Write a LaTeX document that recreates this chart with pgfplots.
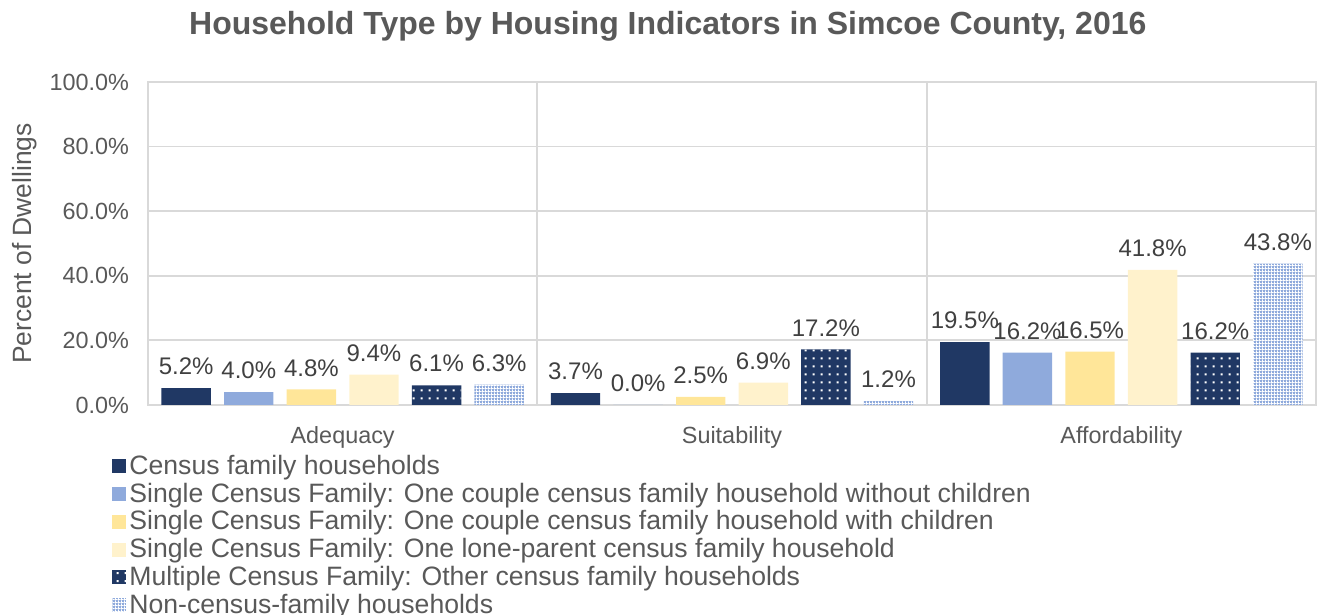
\documentclass[border=0pt]{standalone}
\usepackage{pgfplots}
\pgfplotsset{compat=1.18}
\usepackage{fontspec}
\setmainfont{Liberation Sans}
\usetikzlibrary{patterns}
\definecolor{navy}{HTML}{203864}
\definecolor{lblue}{HTML}{8FAADC}
\definecolor{yel}{HTML}{FFE699}
\definecolor{cream}{HTML}{FFF2CC}
\definecolor{gridc}{HTML}{D9D9D9}
\definecolor{txt}{HTML}{595959}
\definecolor{lbl}{HTML}{404040}
\pgfdeclarepatternformonly{mydots}{\pgfqpoint{0pt}{0pt}}{\pgfqpoint{3.8pt}{3.8pt}}{\pgfqpoint{3.8pt}{3.8pt}}{%
  \pgfpathrectangle{\pgfqpoint{1.4pt}{1.4pt}}{\pgfqpoint{1pt}{1pt}}\pgfusepath{fill}}
\pgfdeclarepatternformonly{mygrid}{\pgfqpoint{0pt}{0pt}}{\pgfqpoint{1.6pt}{1.6pt}}{\pgfqpoint{1.6pt}{1.6pt}}{%
  \pgfpathrectangle{\pgfqpoint{0pt}{0pt}}{\pgfqpoint{1.6pt}{0.5pt}}\pgfusepath{fill}%
  \pgfpathrectangle{\pgfqpoint{0pt}{0pt}}{\pgfqpoint{0.5pt}{1.6pt}}\pgfusepath{fill}}
\begin{document}
\begin{tikzpicture}
\path[use as bounding box] (0,0) rectangle (661.5pt,307.5pt);
\begin{axis}[
  at={(74pt,105pt)}, anchor=south west,
  scale only axis, width=584pt, height=161.5pt,
  ybar=6.6pt, bar width=24.7pt,
  xmin=-0.5, xmax=2.5, ymin=0, ymax=100,
  xtick={0,1,2}, xticklabels={Adequacy,Suitability,Affordability},
  ytick={0,20,40,60,80,100},
  yticklabel={\pgfmathprintnumber[fixed,precision=1,zerofill]{\tick}\%},
  /pgf/number format/assume math mode=true,
  ymajorgrids, major grid style={gridc, line width=0.9pt},
  extra x ticks={0.5,1.5}, extra x tick labels={},
  extra x tick style={grid=major, major tick length=0pt},
  axis line style={gridc, line width=0.9pt},
  major tick length=0pt,
  tick label style={font=\fontsize{11.7}{14}\selectfont, text=txt},
  y tick label style={xshift=-6pt},
  x tick label style={yshift=-7pt},
  ylabel={Percent of Dwellings},
  ylabel style={at={(axis description cs:-0.106,0.5)}, anchor=center, rotate=0, font=\fontsize{13.2}{15}\selectfont, text=txt},
  title={\bfseries Household Type by Housing Indicators in Simcoe County, 2016},
  title style={at={(axis description cs:0.445,1.136)}, anchor=center, font=\fontsize{16}{19}\selectfont, text=txt},
  nodes near coords={\pgfmathprintnumber[fixed,precision=1,zerofill]{\pgfplotspointmeta}\%},
  every node near coord/.append style={font=\fontsize{12}{14}\selectfont, text=lbl, yshift=3pt},
  legend style={draw=none, fill=none, at={(rel axis cs:-0.0359,-0.133)}, anchor=north west,
    font=\fontsize{13.3}{15}\selectfont, text=txt, row sep=-0.3pt,
    nodes={inner sep=1.5pt}},
  legend cell align=left,
  legend image code/.code={\path[#1] (-1.5pt,-3.5pt) rectangle (5.5pt,3.5pt);},
]
\addplot[fill=navy, draw=none] coordinates {(0,5.2) (1,3.7) (2,19.5)};
\addplot[fill=lblue, draw=none] coordinates {(0,4.0) (1,0.0) (2,16.2)};
\addplot[fill=yel, draw=none] coordinates {(0,4.8) (1,2.5) (2,16.5)};
\addplot[fill=cream, draw=none] coordinates {(0,9.4) (1,6.9) (2,41.8)};
\addplot[fill=navy, draw=none, postaction={pattern=mydots, pattern color=white}] coordinates {(0,6.1) (1,17.2) (2,16.2)};
\addplot[fill=lblue, draw=none, postaction={pattern=mygrid, pattern color=white}] coordinates {(0,6.3) (1,1.2) (2,43.8)};
\legend{Census family households,
Single Census Family: One couple census family household without children,
Single Census Family: One couple census family household with children,
Single Census Family: One lone-parent census family household,
Multiple Census Family: Other census family households,
Non-census-family households}
\end{axis}
\end{tikzpicture}
\end{document}
